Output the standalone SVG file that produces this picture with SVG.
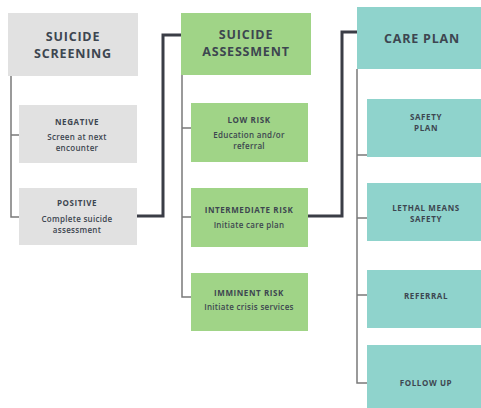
<svg xmlns="http://www.w3.org/2000/svg" width="481" height="408" viewBox="0 0 481 408">
  <style>
    .gray { fill: #e1e1e1; }
    .green { fill: #a0d487; }
    .teal { fill: #8fd3cc; }
    text { font-family: "Open Sans", "Liberation Sans", sans-serif; fill: #3d4650; text-anchor: middle; }
    .h { font-size: 12.5px; font-weight: 700; letter-spacing: 0.8px; }
    .t { font-size: 8px; font-weight: 700; letter-spacing: 0.6px; }
    .b { font-size: 8px; font-weight: 600; letter-spacing: 0.3px; }
    .thin { fill: none; stroke: #7a7a7a; stroke-width: 1.5; }
    .thick { fill: none; stroke: #3a3d46; stroke-width: 3; }
  </style>

  <!-- connectors -->
  <g id="connectors">
    <path class="thin" d="M11 76 V217 H19 M11 135 H19"/>
    <path class="thin" d="M182 75 V297 H191 M182 128 H191 M182 217 H191"/>
    <path class="thin" d="M357 69 V383 H367 M357 155 H367 M357 218 H367 M357 295 H367"/>
    <path class="thick" d="M137 216 H163 V35 H181"/>
    <path class="thick" d="M308 216 H342 V32 H357"/>
  </g>

  <!-- screening column -->
  <g id="suicide-screening">
    <rect class="gray" x="8" y="13" width="130" height="63"/>
    <text class="h" x="73" y="41">SUICIDE</text>
    <text class="h" x="73" y="58">SCREENING</text>
  </g>
  <g id="negative">
    <rect class="gray" x="19" y="105" width="118" height="58"/>
    <text class="t" x="77" y="125">NEGATIVE</text>
    <text class="b" x="77" y="140">Screen at next</text>
    <text class="b" x="77" y="151">encounter</text>
  </g>
  <g id="positive">
    <rect class="gray" x="19" y="188" width="118" height="57"/>
    <text class="t" x="77" y="206">POSITIVE</text>
    <text class="b" x="77" y="222">Complete suicide</text>
    <text class="b" x="77" y="233">assessment</text>
  </g>

  <!-- assessment column -->
  <g id="suicide-assessment">
    <rect class="green" x="181" y="13" width="130" height="62"/>
    <text class="h" x="246" y="39">SUICIDE</text>
    <text class="h" x="246" y="56">ASSESSMENT</text>
  </g>
  <g id="low-risk">
    <rect class="green" x="191" y="103" width="117" height="59"/>
    <text class="t" x="249" y="123">LOW RISK</text>
    <text class="b" x="249" y="138">Education and/or</text>
    <text class="b" x="249" y="149">referral</text>
  </g>
  <g id="intermediate-risk">
    <rect class="green" x="191" y="188" width="117" height="59"/>
    <text class="t" x="249" y="213">INTERMEDIATE RISK</text>
    <text class="b" x="249" y="228">Initiate care plan</text>
  </g>
  <g id="imminent-risk">
    <rect class="green" x="191" y="273" width="117" height="58"/>
    <text class="t" x="249" y="296">IMMINENT RISK</text>
    <text class="b" x="249" y="310">Initiate crisis services</text>
  </g>

  <!-- care plan column -->
  <g id="care-plan">
    <rect class="teal" x="357" y="7" width="124" height="62"/>
    <text class="h" x="422" y="43">CARE PLAN</text>
  </g>
  <g id="safety-plan">
    <rect class="teal" x="367" y="99" width="114" height="58"/>
    <text class="t" x="426" y="120">SAFETY</text>
    <text class="t" x="426" y="131">PLAN</text>
  </g>
  <g id="lethal-means-safety">
    <rect class="teal" x="367" y="183" width="114" height="58"/>
    <text class="t" x="426" y="211">LETHAL MEANS</text>
    <text class="t" x="426" y="222">SAFETY</text>
  </g>
  <g id="referral">
    <rect class="teal" x="367" y="270" width="114" height="58"/>
    <text class="t" x="426" y="299">REFERRAL</text>
  </g>
  <g id="follow-up">
    <rect class="teal" x="367" y="345" width="114" height="63"/>
    <text class="t" x="426" y="386">FOLLOW UP</text>
  </g>
</svg>
